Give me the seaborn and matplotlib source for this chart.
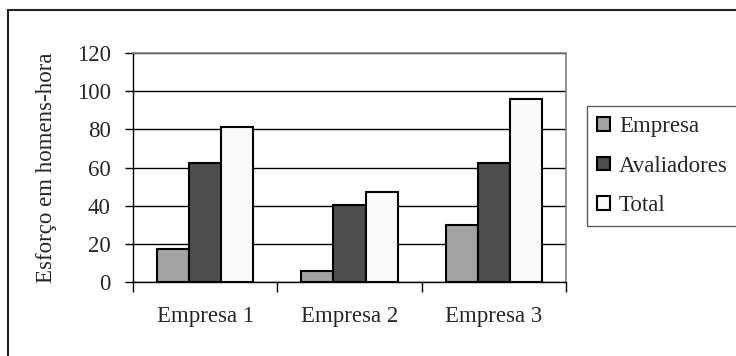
import matplotlib
matplotlib.use("Agg")
import matplotlib.pyplot as plt
from matplotlib.patches import Patch, Rectangle
import seaborn as sns
import pandas as pd

categories = ["Empresa 1", "Empresa 2", "Empresa 3"]
series = ["Empresa", "Avaliadores", "Total"]
empresa = [17.5, 6, 30]
avaliadores = [62.5, 40.5, 62.5]
total = [81, 47, 96]
y_ticks = [0, 20, 40, 60, 80, 100, 120]
y_label = "Esforço em homens-hora"

colors = ["#a3a3a3", "#4d4d4d", "#fafafa"]
FS = 16.5

df = pd.DataFrame({
    "categoria": categories * 3,
    "serie": [s for s in series for _ in categories],
    "valor": empresa + avaliadores + total,
})

sns.set_style("white")
plt.rcParams["font.family"] = ["Liberation Serif", "DejaVu Serif"]

fig = plt.figure(figsize=(7.36, 3.56), dpi=100)
ax = fig.add_axes([133 / 736, 1 - 282 / 356, (566 - 133) / 736, (282 - 53) / 356])

sns.barplot(data=df, x="categoria", y="valor", hue="serie", order=categories,
            hue_order=series, palette=colors, width=2 / 3, saturation=1,
            edgecolor="black", linewidth=1.5, legend=False, ax=ax, zorder=3)

ax.set_ylim(0, 120)
ax.set_xlim(-0.5, 2.5)
ax.set_yticks(y_ticks)
ax.set_yticklabels([str(v) for v in y_ticks], fontsize=FS)
ax.yaxis.grid(True, color="black", linewidth=1.0, zorder=0)
ax.set_axisbelow(True)

ax.set_xticks(range(len(categories)))
ax.set_xticklabels(categories, fontsize=FS)
ax.set_xticks([-0.5, 0.5, 1.5, 2.5], minor=True)
ax.tick_params(axis="x", which="major", length=0, pad=17)
ax.tick_params(axis="x", which="minor", length=7, width=1, color="black", direction="out", bottom=True)
ax.tick_params(axis="y", length=6, width=1, color="black", direction="out", left=True, pad=10)
ax.set_xlabel("")
ax.set_ylabel(y_label, fontsize=FS, labelpad=14)

for side in ["left", "bottom"]:
    ax.spines[side].set_color("black")
    ax.spines[side].set_linewidth(1.0)
for side in ["top", "right"]:
    ax.spines[side].set_color("#808080")
    ax.spines[side].set_linewidth(1.2)

handles = [Patch(facecolor=c, edgecolor="black", linewidth=1.5) for c in colors]
fig.legend(handles, series, loc="upper left",
           bbox_to_anchor=(587 / 736, 1 - 106 / 356), borderaxespad=0,
           fontsize=FS, frameon=True, fancybox=False, edgecolor="#333333",
           handlelength=0.55, handleheight=0.55, handletextpad=0.4,
           labelspacing=0.8, borderpad=0.45)

fig.patches.append(Rectangle((8 / 736, -0.5), 2, 1 - 10 / 356 + 0.5,
                             transform=fig.transFigure, fill=False,
                             edgecolor="#222222", linewidth=1.5))

fig.savefig("out.png", dpi=100)
